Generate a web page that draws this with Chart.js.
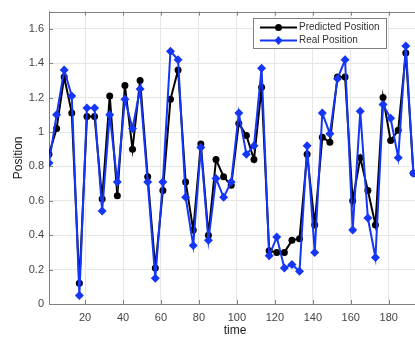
<!DOCTYPE html>
<html>
<head>
<meta charset="utf-8">
<script src="https://cdn.jsdelivr.net/npm/chart.js@4/dist/chart.umd.min.js"></script>
<style>
  html, body { margin: 0; padding: 0; background: #fff; overflow: hidden; width: 415px; height: 338px; }
  #wrap { width: 440px; height: 338px; }
</style>
</head>
<body>
<div id="wrap"><canvas id="c" width="440" height="338"></canvas></div>
<script>
const time = [1,5,9,13,17,21,25,29,33,37,41,45,49,53,57,61,65,69,73,77,81,85,89,93,97,101,105,109,113,117,121,125,129,133,137,141,145,149,153,157,161,165,169,173,177,181,185,189,193];
const predicted = [0.87,1.02,1.32,1.11,0.12,1.09,1.09,0.61,1.21,0.63,1.27,0.90,1.30,0.74,0.21,0.66,1.19,1.36,0.71,0.43,0.93,0.40,0.84,0.74,0.69,1.05,0.98,0.84,1.26,0.31,0.30,0.30,0.37,0.38,0.87,0.46,0.97,0.94,1.32,1.32,0.60,0.85,0.66,0.46,1.20,0.95,1.01,1.46,0.76];
const real = [0.82,1.10,1.36,1.21,0.05,1.14,1.14,0.54,1.10,0.71,1.19,1.02,1.25,0.71,0.15,0.71,1.47,1.42,0.62,0.34,0.91,0.37,0.73,0.62,0.71,1.11,0.87,0.92,1.37,0.28,0.39,0.21,0.23,0.19,0.92,0.30,1.11,0.99,1.31,1.42,0.43,1.12,0.50,0.27,1.16,1.08,0.85,1.50,0.76];
const xTicks = [20,40,60,80,100,120,140,160,180];
const yTicks = [0,0.2,0.4,0.6,0.8,1,1.2,1.4,1.6];
const yTickLabels = ['0','0.2','0.4','0.6','0.8','1','1.2','1.4','1.6'];
const seriesNames = ['Predicted Position','Real Position'];

const BLUE = '#1636f5';
const AXIS = '#808080';
const FONT = "'Liberation Sans', Arial, Helvetica, sans-serif";

const innerTicks = {
  id: 'innerTicks',
  beforeDatasetsDraw(chart) {
    const {ctx, chartArea: a, scales} = chart;
    ctx.save();
    ctx.strokeStyle = AXIS;
    ctx.lineWidth = 1;
    ctx.beginPath();
    xTicks.forEach(v => {
      const x = Math.round(scales.x.getPixelForValue(v)) + 0.5;
      ctx.moveTo(x, a.bottom); ctx.lineTo(x, a.bottom - 4);
      ctx.moveTo(x, a.top); ctx.lineTo(x, a.top + 4);
    });
    yTicks.forEach(v => {
      const y = Math.round(scales.y.getPixelForValue(v)) + 0.5;
      ctx.moveTo(a.left, y); ctx.lineTo(a.left + 4, y);
    });
    ctx.stroke();
    ctx.beginPath();
    ctx.rect(Math.round(a.left) + 0.5, Math.round(a.top) + 0.5, Math.round(a.right - a.left), Math.round(a.bottom - a.top));
    ctx.stroke();
    ctx.restore();
  }
};

const boxLegend = {
  id: 'boxLegend',
  afterDraw(chart) {
    const {ctx} = chart;
    const x0 = 253.5, y0 = 18.5, w = 133, h = 30;
    ctx.save();
    ctx.fillStyle = '#fff';
    ctx.fillRect(x0, y0, w, h);
    ctx.strokeStyle = AXIS;
    ctx.lineWidth = 1;
    ctx.strokeRect(x0, y0, w, h);
    const rows = [27.5, 40.5];
    chart.data.datasets.forEach((ds, i) => {
      const y = rows[i];
      ctx.strokeStyle = ds.borderColor;
      ctx.lineWidth = 2;
      ctx.beginPath(); ctx.moveTo(260, y); ctx.lineTo(297, y); ctx.stroke();
      ctx.fillStyle = ds.borderColor;
      ctx.beginPath();
      if (ds.pointStyle === 'circle') {
        ctx.arc(278.5, y, 3.5, 0, Math.PI * 2);
      } else {
        ctx.moveTo(278.5, y - 4.5); ctx.lineTo(282.5, y); ctx.lineTo(278.5, y + 4.5); ctx.lineTo(274.5, y); ctx.closePath();
      }
      ctx.fill();
      ctx.fillStyle = '#333';
      ctx.font = '10px ' + FONT;
      ctx.textBaseline = 'middle';
      ctx.textAlign = 'left';
      ctx.fillText(ds.label, 299, y);
    });
    ctx.restore();
  }
};

new Chart(document.getElementById('c'), {
  type: 'line',
  data: {
    datasets: [
      {
        label: seriesNames[0],
        data: time.map((t, i) => ({x: t, y: predicted[i]})),
        borderColor: '#000',
        backgroundColor: '#000',
        borderWidth: 2,
        pointStyle: 'circle',
        pointRadius: 3.5,
        pointBorderWidth: 0,
        tension: 0,
        order: 1
      },
      {
        label: seriesNames[1],
        data: time.map((t, i) => ({x: t, y: real[i]})),
        borderColor: BLUE,
        backgroundColor: BLUE,
        borderWidth: 2,
        pointStyle: 'rectRot',
        pointRadius: 4.5,
        pointBorderWidth: 0,
        tension: 0,
        order: 0
      }
    ]
  },
  options: {
    responsive: false,
    animation: false,
    devicePixelRatio: 1,
    layout: { padding: { top: 10, right: 19, bottom: 0, left: 0 } },
    plugins: { legend: { display: false }, tooltip: { enabled: false } },
    scales: {
      x: {
        type: 'linear',
        min: 1,
        max: 197,
        afterBuildTicks: (axis) => { axis.ticks = xTicks.map(v => ({value: v})); },
        afterFit: (axis) => { axis.height = 34; },
        grid: { color: '#e6e6e6', drawTicks: false, lineWidth: 1 },
        border: { display: true, color: AXIS, width: 1 },
        ticks: { color: '#444', font: { family: FONT, size: 11 }, padding: 7, maxRotation: 0, autoSkip: false, callback: (v) => String(v) },
        title: { display: true, text: 'time', color: '#222', font: { family: FONT, size: 12, lineHeight: 1.2 }, padding: { top: 0, bottom: 0 } }
      },
      y: {
        min: 0,
        max: 1.7,
        afterBuildTicks: (axis) => { axis.ticks = yTicks.map(v => ({value: v})); },
        afterFit: (axis) => { axis.width = 49; },
        grid: { color: '#e6e6e6', drawTicks: false, lineWidth: 1 },
        border: { display: true, color: AXIS, width: 1 },
        ticks: { color: '#444', font: { family: FONT, size: 11 }, padding: 5, autoSkip: false, callback: (v, i) => yTickLabels[i] },
        title: { display: true, text: 'Position', color: '#222', font: { family: FONT, size: 12, lineHeight: 1.2 }, padding: { top: 11, bottom: 0 } }
      }
    }
  },
  plugins: [innerTicks, boxLegend]
});
</script>
</body>
</html>
